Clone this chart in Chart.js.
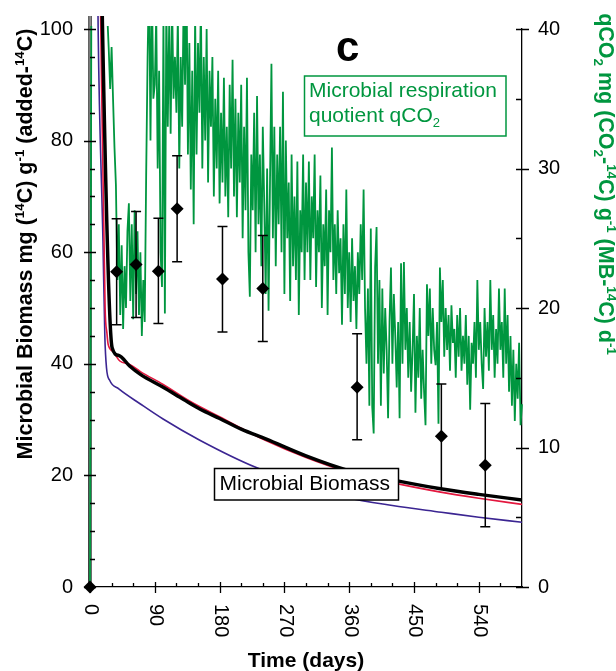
<!DOCTYPE html>
<html><head><meta charset="utf-8">
<script src="https://cdn.jsdelivr.net/npm/chart.js@4.4.1/dist/chart.umd.min.js"></script>
<style>html,body{margin:0;padding:0;background:#fff;}canvas{display:block;}</style>
</head><body>
<canvas id="c" width="616" height="671"></canvas>
<script>
const FONT = "'Liberation Sans', Arial, Helvetica, sans-serif";

// x tick labels (days)
const xTickDays = [0, 90, 180, 270, 360, 450, 540];
const xTickLabels = ['0', '90', '180', '270', '360', '450', '540'];

// measured microbial biomass (diamonds) with error bars
const measDays = [0, 37, 64, 95, 121, 184, 240, 371, 488, 549];
const measVals = [0, 56.5, 57.8, 56.6, 67.8, 55.2, 53.5, 35.8, 27.0, 21.8];
const measLow  = [0, 47.0, 48.3, 47.2, 58.3, 45.7, 44.0, 26.4, 17.6, 10.8];
const measHigh = [0, 66.0, 67.3, 66.1, 77.3, 64.6, 63.0, 45.4, 36.4, 32.9];

// model curves [day, value]
const blackModel = [[0,0],[0.6,250],[17.4,100],[30.7,42.9],[40,41.5],[55,39.6],[70,38.1],[101.6,35.8],[130,33.6],[152.5,31.9],[180,30.2],[210,28.3],[245,26.5],[300,23.5],[356,21.0],[420,19.2],[487,17.6],[540,16.6],[600,15.6]];
const redModel = [[0,0],[0.5,250],[15,100],[21,50],[23.5,45.5],[25.2,43.5],[32,42.2],[41.4,40.5],[55,39.9],[70,38.6],[101.6,36.3],[140,33.2],[180,30.5],[245,26.2],[300,23.2],[356,20.7],[420,18.7],[487,17.0],[540,15.9],[600,14.8]];
const purpleModel = [[0,0],[0.4,250],[11.3,100],[18,62],[20.6,45],[22.9,39.3],[27.5,37],[40,35.5],[70,32.8],[101.5,30.1],[152.5,26.3],[231,21.4],[300,18.4],[356,16.1],[420,14.6],[488,13.4],[540,12.5],[600,11.6]];
const grayModel = [[0,0],[0.5,250]];

// microbial respiration quotient qCO2 [day, value] (right axis)
const qco2Series = [[0,0],[2,45],[12,50],[22,44],[24,41],[26,38.6],[28,35.7],[30,38.7],[32,35.0],[34,31.5],[36,28.8],[38,22],[40,26],
[42,19.5],[44,24.5],[46,18.5],[48,23],[50,20],[52,25.5],[54,27.5],[56,20.5],[58,26],[60,19.2],[62,27],[64,21],[66,25.5],[68,19.5],[70,24],
[72,18],[74,22],[76,19],[78,29.5],[80,38],[82,44],[84,32],[86,43],[88,35],[90,36],[92,41],[94,30],[96,37],[98,24],[100,21.5],[102,41],
[104,19.6],[106,42],[108,33],[110,40.5],[112,32.5],[114,42],[116,35],[118,38],[120,34],[122,41],[124,30],[126,38],[128,33],[130,42],
[132,36],[134,44],[136,31],[138,39],[140,28.5],[142,37],[144,26],[146,41],[148,31],[150,39],[152,34],[154,42],[156,30],[158,38],[160,32],
[162,40],[164,29],[166,37],[168,33],[170,38],[172,28],[174,35],[176,30],[178,37],[180,27.5],[182,34],[184,29],[186,36.5],[188,28],[190,33],
[192,26.5],[194,36],[196,30],[198,37.8],[200,28],[202,35],[204,26.5],[206,34],[208,29],[210,36],[212,25],[214,33],[216,27],[218,36.5],
[220,24],[222,20.8],[224,31],[226,27],[228,34],[230,24],[232,35.2],[234,26],[236,31],[238,23],[240,33],[242,27.5],[244,21],[246,30],
[248,19.8],[250,29],[252,37.5],[254,25],[256,33],[258,23],[260,31],[262,26],[264,33],[266,24],[268,35.5],[270,21],[272,32],[274,25],
[276,29],[278,20.5],[280,31],[282,23],[284,28],[286,22],[288,30.5],[290,19.5],[292,27],[294,24],[296,31],[298,22],[300,29],[302,24],
[304,30.5],[306,22],[308,28],[310,25],[312,31],[314,21.5],[316,27],[318,24],[320,29.5],[322,20],[324,26],[326,23],[328,28.5],[330,19.5],
[332,27],[334,24],[336,31.5],[338,22],[340,26],[342,21],[344,27],[346,22.5],[348,25],[350,18.8],[352,26],[354,21],[356,28.5],[358,20],
[360,24],[362,19],[364,25],[366,20.5],[368,23],[370,18.5],[372,24],[374,21],[376,26],[378,22],[380,28.5],[382,20],[384,16],[386,21.4],
[388,13],[390,25.7],[392,12.9],[394,11],[396,22.9],[398,25.8],[400,16],[402,22],[404,13],[406,21.4],[408,15.3],[410,20],[412,17],
[414,12.1],[416,19],[418,22.9],[420,16],[422,21],[424,18],[426,14.3],[428,19],[430,12.1],[432,23.2],[434,16],[436,23.3],[438,17],
[440,20],[442,15],[444,19],[446,14],[448,17],[450,21],[452,12.5],[454,18],[456,15],[458,20],[460,13.5],[462,17],[464,14],[466,11.6],
[468,21.7],[470,18],[472,21.4],[474,16],[476,20],[478,17],[480,15.9],[482,19],[484,11.7],[486,22.9],[488,19],[490,22],[492,16.5],
[494,20],[496,17],[498,19.5],[500,15.5],[502,20.2],[504,17.5],[506,18.5],[508,15],[510,19.5],[512,16.5],[514,20],[516,15.5],[518,18],
[520,16],[522,19.5],[524,14.5],[526,18],[528,12.7],[530,17.5],[532,16],[534,19],[536,15],[538,22],[540,17],[542,19],[544,16],[546,14.2],
[548,20],[550,16.5],[552,19],[554,15.5],[556,22],[558,17],[560,19.5],[562,15],[564,18.5],[566,16],[568,21.4],[570,17],[572,19],[574,15],
[576,21.4],[578,16],[580,19.5],[582,14],[584,18],[586,13],[588,17],[590,11.9],[592,16],[594,13.5],[596,17.5],[598,11.6],[600,13.1]];

const GREEN = '#00963f';

const leftTitle = [['Microbial Biomass mg (',''],['14','sup'],['C) g',''],['-1','sup'],[' (added-',''],['14','sup'],['C)','']];
const rightTitle = [['qCO',''],['2','sub'],[' mg (CO',''],['2','sub'],['-',''],['14','sup'],['C) g',''],['-1','sup'],[' (MB-',''],['14','sup'],['C) d',''],['-1','sup']];

function segFont(size, weight, k){ return weight + ' ' + (k ? size*0.62 : size) + 'px ' + FONT; }
function richWidth(ctx, segs, size, weight){
  let w = 0;
  for (const s of segs){ ctx.font = segFont(size, weight, s[1]); w += ctx.measureText(s[0]).width; }
  return w;
}
function drawRich(ctx, segs, x, y, size, weight){
  let cx = x;
  for (const s of segs){
    ctx.font = segFont(size, weight, s[1]);
    const dy = s[1] === 'sup' ? -size*0.38 : (s[1] === 'sub' ? size*0.22 : 0);
    ctx.fillText(s[0], cx, y + dy);
    cx += ctx.measureText(s[0]).width;
  }
}

const decor = {
  id: 'decor',
  beforeDatasetDraw(chart, args){
    if (args.index !== 0) return;
    const ctx = chart.ctx, xs = chart.scales.x, ys = chart.scales.y;
    ctx.save();
    ctx.strokeStyle = '#000'; ctx.lineWidth = 1.5;
    for (let i = 0; i < measDays.length; i++){
      if (measHigh[i] === measLow[i]) continue;
      const x = xs.getPixelForValue(measDays[i]);
      const y1 = ys.getPixelForValue(measLow[i]), y2 = ys.getPixelForValue(measHigh[i]);
      ctx.beginPath();
      ctx.moveTo(x, y1); ctx.lineTo(x, y2);
      ctx.moveTo(x-5, y1); ctx.lineTo(x+5, y1);
      ctx.moveTo(x-5, y2); ctx.lineTo(x+5, y2);
      ctx.stroke();
    }
    ctx.restore();
  },
  afterDatasetsDraw(chart){
    const ctx = chart.ctx;
    ctx.save();
    // green legend box
    ctx.fillStyle = '#fff';
    ctx.fillRect(304.5, 76, 201.5, 60);
    ctx.strokeStyle = GREEN; ctx.lineWidth = 1.5;
    ctx.strokeRect(304.5, 76, 201.5, 60);
    ctx.fillStyle = GREEN; ctx.textAlign = 'left'; ctx.textBaseline = 'alphabetic';
    ctx.font = '21px ' + FONT;
    ctx.fillText('Microbial respiration', 309, 97);
    drawRich(ctx, [['quotient qCO',''],['2','sub']], 309, 122, 21, 'normal');
    // black legend box
    ctx.fillStyle = '#fff';
    ctx.fillRect(214.5, 468.5, 184, 31.5);
    ctx.strokeStyle = '#000'; ctx.lineWidth = 1.5;
    ctx.strokeRect(214.5, 468.5, 184, 31.5);
    ctx.fillStyle = '#000'; ctx.font = '21px ' + FONT;
    ctx.fillText('Microbial Biomass', 219.5, 489.5);
    // panel letter
    ctx.font = 'bold 42px ' + FONT;
    ctx.fillText('c', 336, 61);
    ctx.restore();
  },
  afterDraw(chart){
    const ctx = chart.ctx, a = chart.chartArea;
    const xs = chart.scales.x, ys = chart.scales.y, y2s = chart.scales.y2;
    ctx.save();
    ctx.strokeStyle = '#000'; ctx.lineWidth = 1.3;
    ctx.beginPath();
    for (let v = 0; v <= 100; v += 5){
      const y = Math.round(ys.getPixelForValue(v)) + 0.5;
      if (v % 20 === 0){ ctx.moveTo(a.left-6, y); ctx.lineTo(a.left+6, y); }
      else { ctx.moveTo(a.left, y); ctx.lineTo(a.left+5, y); }
    }
    for (let v = 0; v <= 40; v += 5){
      const y = Math.round(y2s.getPixelForValue(v)) + 0.5;
      if (v % 10 === 0){ ctx.moveTo(a.right-6, y); ctx.lineTo(a.right+7, y); }
      else { ctx.moveTo(a.right-6, y); ctx.lineTo(a.right, y); }
    }
    for (let t = 0; t <= 570; t += 30){
      const x = Math.round(xs.getPixelForValue(t)) + 0.5;
      if (t % 90 === 0){ ctx.moveTo(x, a.bottom-5); ctx.lineTo(x, a.bottom+6); }
      else { ctx.moveTo(x, a.bottom-4); ctx.lineTo(x, a.bottom); }
    }
    ctx.stroke();
    // x tick labels rotated clockwise
    ctx.fillStyle = '#000'; ctx.font = '20px ' + FONT;
    ctx.textAlign = 'left'; ctx.textBaseline = 'middle';
    for (let i = 0; i < xTickDays.length; i++){
      const x = xs.getPixelForValue(xTickDays[i]);
      ctx.save(); ctx.translate(x + 1, a.bottom + 17); ctx.rotate(Math.PI/2);
      ctx.fillText(xTickLabels[i], 0, 0); ctx.restore();
    }
    // x title
    ctx.textBaseline = 'alphabetic'; ctx.textAlign = 'center';
    ctx.font = 'bold 21px ' + FONT;
    ctx.fillText('Time (days)', (a.left + a.right)/2, 667);
    ctx.textAlign = 'left';
    // left title
    let w = richWidth(ctx, leftTitle, 21.5, 'bold');
    ctx.save(); ctx.translate(32, 244 + w/2); ctx.rotate(-Math.PI/2);
    drawRich(ctx, leftTitle, 0, 0, 21.5, 'bold'); ctx.restore();
    // right title
    ctx.fillStyle = GREEN;
    w = richWidth(ctx, rightTitle, 21.5, 'bold');
    ctx.save(); ctx.translate(599, 184 - w/2); ctx.rotate(Math.PI/2);
    drawRich(ctx, rightTitle, 0, 0, 21.5, 'bold'); ctx.restore();
    ctx.restore();
  }
};

const modelClip = {left: 4, top: 13, right: 0, bottom: 4};
new Chart(document.getElementById('c'), {
  type: 'line',
  data: { datasets: [
    { label: 'Measured biomass', data: measDays.map((d, i) => ({x: d, y: measVals[i]})), showLine: false,
      pointStyle: 'rectRot', pointRadius: 6.5, pointBackgroundColor: '#000', pointBorderColor: '#000', pointBorderWidth: 0,
      yAxisID: 'y', order: 0, clip: false },
    { label: 'Model', data: blackModel, borderColor: '#000', borderWidth: 3.5, pointRadius: 0,
      cubicInterpolationMode: 'monotone', yAxisID: 'y', order: 3, clip: modelClip },
    { label: 'Model 2', data: redModel, borderColor: '#e3173e', borderWidth: 1.6, pointRadius: 0,
      cubicInterpolationMode: 'monotone', yAxisID: 'y', order: 4, clip: modelClip },
    { label: 'Model 3', data: purpleModel, borderColor: '#3b2592', borderWidth: 1.6, pointRadius: 0,
      cubicInterpolationMode: 'monotone', yAxisID: 'y', order: 5, clip: modelClip },
    { label: 'Model 4', data: grayModel, borderColor: '#8a8a8a', borderWidth: 2.5, pointRadius: 0,
      yAxisID: 'y', order: 2, clip: modelClip },
    { label: 'qCO2', data: qco2Series, borderColor: GREEN, borderWidth: 1.8, pointRadius: 0, tension: 0,
      yAxisID: 'y2', order: 1, clip: {left: 4, top: 3, right: 3, bottom: 0} }
  ]},
  options: {
    responsive: false, animation: false, devicePixelRatio: 1,
    layout: { padding: { top: 27, left: 0, right: 0, bottom: 0 } },
    plugins: { legend: { display: false }, tooltip: { enabled: false } },
    scales: {
      x: { type: 'linear', min: 0, max: 600, ticks: { display: false },
           grid: { display: false, drawTicks: false }, border: { display: true, color: '#000', width: 1.3 },
           afterFit(s){ s.height = 84; } },
      y: { position: 'left', min: 0, max: 100,
           ticks: { stepSize: 20, font: { family: FONT, size: 20 }, color: '#000', padding: 17 },
           grid: { display: false, drawTicks: false }, border: { display: true, color: '#000', width: 1.3 },
           afterFit(s){ s.width = 90; } },
      y2: { position: 'right', min: 0, max: 40,
           ticks: { stepSize: 10, font: { family: FONT, size: 20 }, color: '#000', padding: 16 },
           grid: { display: false, drawTicks: false }, border: { display: true, color: '#000', width: 1.3 },
           afterFit(s){ s.width = 94; } }
    }
  },
  plugins: [decor]
});
</script>
</body></html>
